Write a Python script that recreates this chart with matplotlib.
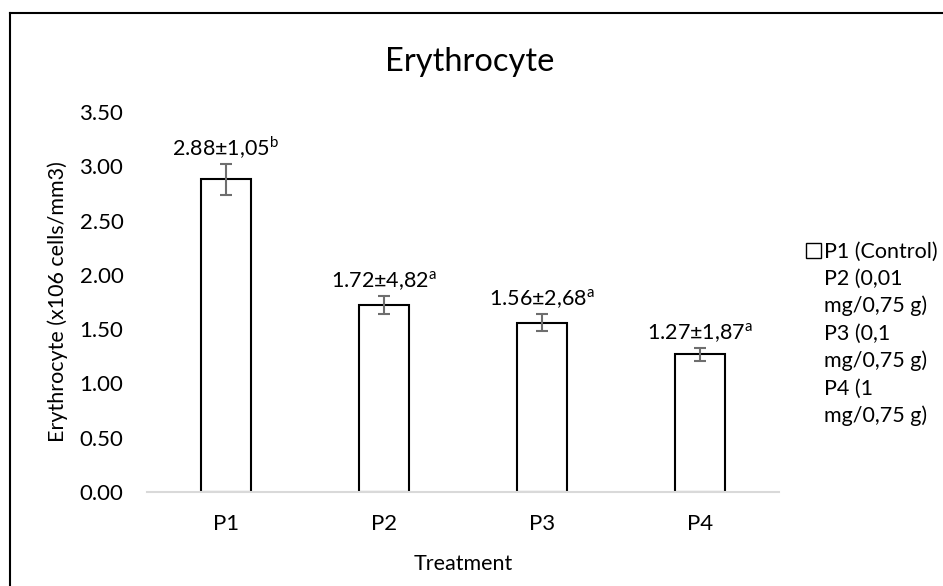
import matplotlib
matplotlib.use("Agg")
import matplotlib.pyplot as plt
from matplotlib.patches import Patch
from matplotlib.lines import Line2D
import numpy as np

plt.rcParams['font.family'] = ['Lato', 'DejaVu Sans']
plt.rcParams['mathtext.fontset'] = 'custom'
plt.rcParams['mathtext.rm'] = 'Lato'

# data
groups = ['P1', 'P2', 'P3', 'P4']
means = [2.88, 1.72, 1.56, 1.27]
errs = [0.14, 0.085, 0.08, 0.06]
sd_text = ['1,05', '4,82', '2,68', '1,87']
letters = ['b', 'a', 'a', 'a']
legend_labels = ['P1 (Control)', 'P2 (0,01\nmg/0,75 g)', 'P3 (0,1\nmg/0,75 g)', 'P4 (1\nmg/0,75 g)']

W, H = 943, 586
fig = plt.figure(figsize=(W / 100, H / 100), dpi=100)
ax = fig.add_axes([147 / W, (H - 492) / H, (779 - 147) / W, (492 - 112) / H])

x = np.arange(len(groups))
ax.bar(x, means, width=0.316, color='white', edgecolor='black', linewidth=1.5, zorder=2)
ax.errorbar(x, means, yerr=errs, fmt='none', ecolor='#6e6e6e', elinewidth=1.5,
            capsize=4.5, capthick=1.5, zorder=3)

for xi, m, e, s, l in zip(x, means, errs, sd_text, letters):
    ax.annotate('%.2f±%s$^{\\mathrm{%s}}$' % (m, s, l), (xi, m + e), xytext=(0, 2),
                textcoords='offset points', ha='center', va='bottom', fontsize=15.5)

ax.set_xlim(-0.5, 3.5)
ax.set_ylim(0, 3.5)
ax.set_yticks(np.arange(0, 3.51, 0.5))
ax.set_yticklabels(['%.2f' % v for v in np.arange(0, 3.51, 0.5)])
ax.set_xticks(x)
ax.set_xticklabels(groups)
ax.tick_params(length=0, labelsize=16, colors='#000000')
ax.tick_params(axis='y', pad=17)
ax.tick_params(axis='x', pad=16)
for side in ['top', 'right', 'left']:
    ax.spines[side].set_visible(False)
ax.spines['bottom'].set_color('#d9d9d9')
ax.spines['bottom'].set_linewidth(1.5)
ax.spines['bottom'].set_zorder(4)

ax.set_xlabel('Treatment', fontsize=15.5, labelpad=14)
ax.set_ylabel('Erythrocyte (x106 cells/mm3)', fontsize=15.5, labelpad=8)
fig.text(470 / W, 1 - 62 / H, 'Erythrocyte', ha='center', va='center', fontsize=23.5)

handles = [Patch(facecolor='white', edgecolor='black', linewidth=1.0)]
handles += [Patch(facecolor='none', edgecolor='none') for _ in range(3)]
leg = fig.legend(handles, legend_labels, loc='upper left', bbox_to_anchor=(797 / W, 1 - 233 / H),
                 frameon=False, fontsize=15.5, handlelength=0.7, handleheight=0.7,
                 handletextpad=0.15, labelspacing=0.35, borderaxespad=0)
for t in leg.get_texts():
    t.set_linespacing(1.4)

# outer chart border
fig.add_artist(Line2D([10 / W, 10 / W], [0, 1 - 13 / H], transform=fig.transFigure, color='black', lw=1.5))
fig.add_artist(Line2D([10 / W, 1], [1 - 13 / H, 1 - 13 / H], transform=fig.transFigure, color='black', lw=1.5))

fig.savefig('out.png', dpi=100)
